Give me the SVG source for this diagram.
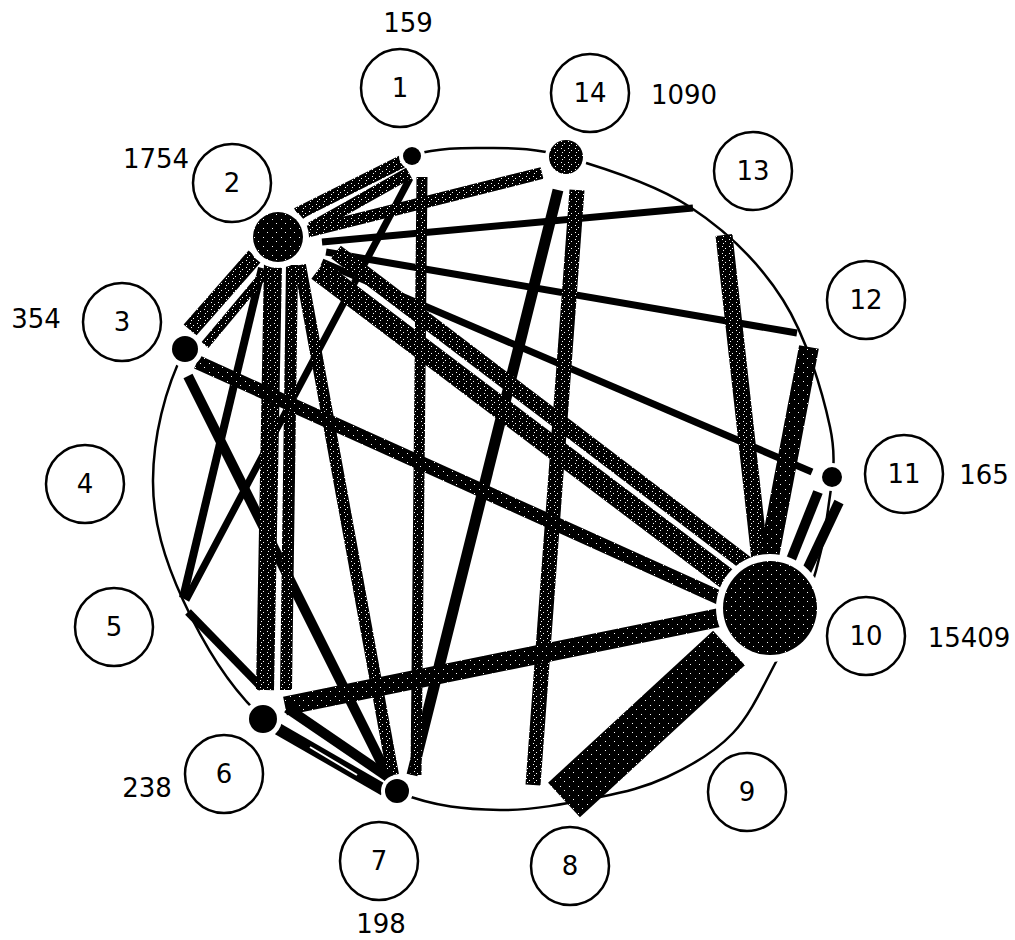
<svg xmlns="http://www.w3.org/2000/svg" width="1015" height="940" viewBox="0 0 1015 940">
<defs>
<pattern id="stip" width="7" height="7" patternUnits="userSpaceOnUse">
<rect width="7" height="7" fill="#000"/>
<rect x="1" y="1" width="1" height="1" fill="#fff"/>
<rect x="4" y="3" width="1" height="1" fill="#fff"/>
<rect x="2" y="5" width="1" height="1" fill="#fff"/>
</pattern>
<pattern id="spk" width="9" height="9" patternUnits="userSpaceOnUse">
<rect width="9" height="9" fill="#000"/>
<rect x="2" y="3" width="1" height="1" fill="#fff"/>
<rect x="6" y="7" width="1" height="1" fill="#fff"/>
</pattern>
</defs>
<style>
.lbl{fill:#fff;stroke:#000;stroke-width:2.5}
.num{font-family:"DejaVu Sans",sans-serif;font-size:26px;fill:#000;text-anchor:middle}
.val{font-family:"DejaVu Sans",sans-serif;font-size:26px;fill:#000;text-anchor:middle}
.halo{fill:#fff}
.dot{fill:#000}
.s{stroke:url(#stip);stroke-linecap:butt;fill:none}
.b{stroke:url(#spk);stroke-linecap:butt;fill:none}
.t{stroke:#000;stroke-linecap:butt;fill:none}
</style>
<rect width="1015" height="940" fill="#fff"/>
<path id="ring" d="M412,155 C440,148 459.3,147.7 485,148 C510.7,148.3 531.8,147.2 566,157 C600.2,166.8 653.8,183.2 690,207 C726.2,230.8 759.7,263.3 783,300 C806.3,336.7 822.5,392 830,427 C837.5,462 831.3,482.8 828,510 C824.7,537.2 818.5,565 810,590 C801.5,615 789.8,636.2 777,660 C764.2,683.8 751.3,713.5 733,733 C714.7,752.5 689.2,766.7 667,777 C644.8,787.3 625,792 600,797 C572.2,802.5 533.8,810.5 500,810 C466.2,809.5 436.5,807.3 397,792 C357.5,776.7 298.7,750 263,718 C227.3,686 201.3,639.7 183,600 C164.7,560.3 152.7,521.8 153,480 C153.3,438.2 164.2,389.5 185,349 C205.8,308.5 240.2,269.3 278,237 C315.8,204.7 380,166 412,155 Z" fill="none" stroke="#000" stroke-width="2.5"/>
<g id="connectors">
<line class="t" x1="322" y1="242" x2="693" y2="208" stroke-width="7"/>
<line class="t" x1="326" y1="252" x2="797" y2="333" stroke-width="7"/>
<line class="t" x1="322" y1="262" x2="812" y2="472" stroke-width="7"/>
<line class="t" x1="262" y1="268" x2="183" y2="598" stroke-width="8"/>
<line class="t" x1="410" y1="178" x2="186" y2="600" stroke-width="7"/>
<line class="t" x1="188" y1="612" x2="262" y2="688" stroke-width="8"/>
<line class="t" x1="188" y1="376" x2="390" y2="780" stroke-width="10"/>
<line class="t" x1="558" y1="190" x2="412" y2="775" stroke-width="11"/>
<line class="s" x1="297" y1="214" x2="403" y2="161" stroke-width="13"/>
<line class="s" x1="311" y1="228" x2="409" y2="173" stroke-width="12"/>
<line class="s" x1="306" y1="232" x2="542" y2="173" stroke-width="12"/>
<line class="s" x1="336" y1="252" x2="752" y2="568" stroke-width="16"/>
<line class="s" x1="318" y1="270" x2="735" y2="585" stroke-width="22"/>
<line class="s" x1="190" y1="330" x2="255" y2="256" stroke-width="17"/>
<line class="s" x1="205" y1="345" x2="266" y2="272" stroke-width="9"/>
<line class="s" x1="273" y1="262" x2="265" y2="690" stroke-width="18"/>
<line class="s" x1="292" y1="265" x2="286" y2="690" stroke-width="12"/>
<line class="s" x1="300" y1="265" x2="393" y2="775" stroke-width="12"/>
<line class="s" x1="422" y1="177" x2="416" y2="775" stroke-width="11"/>
<line class="s" x1="577" y1="190" x2="533" y2="785" stroke-width="15"/>
<line class="s" x1="724" y1="235" x2="760" y2="560" stroke-width="17"/>
<line class="b" x1="809" y1="347" x2="768" y2="562" stroke-width="20"/>
<line class="t" x1="818" y1="492" x2="790" y2="562" stroke-width="10"/>
<line class="t" x1="839" y1="502" x2="806" y2="572" stroke-width="10"/>
<line class="b" x1="197" y1="362" x2="720" y2="598" stroke-width="14"/>
<line class="b" x1="285" y1="706" x2="722" y2="617" stroke-width="19"/>
<line class="t" x1="287" y1="708" x2="388" y2="777" stroke-width="10"/>
<line class="t" x1="278" y1="729" x2="384" y2="790" stroke-width="12"/>
<line x1="310" y1="747" x2="357" y2="775" stroke="#fff" stroke-width="2"/>
<line class="b" x1="729" y1="648" x2="564" y2="800" stroke-width="47"/>
</g>
<g id="node1">
<circle class="halo" cx="412" cy="156" r="13"/>
<circle class="dot" cx="412" cy="156" r="9"/>
<circle class="lbl" cx="400" cy="88" r="39"/>
<text class="num" x="400" y="97">1</text>
<text class="val" x="408" y="32">159</text>
</g>
<g id="node2">
<circle class="halo" cx="278" cy="237" r="31"/>
<circle cx="278" cy="237" r="25" fill="url(#spk)"/>
<circle class="lbl" cx="232" cy="183" r="39"/>
<text class="num" x="232" y="192">2</text>
<text class="val" x="156" y="168">1754</text>
</g>
<g id="node3">
<circle class="halo" cx="185" cy="349" r="18"/>
<circle class="dot" cx="185" cy="349" r="13"/>
<circle class="lbl" cx="122" cy="322" r="39"/>
<text class="num" x="122" y="331">3</text>
<text class="val" x="36" y="328">354</text>
</g>
<g id="node4">
<circle class="lbl" cx="85" cy="484" r="39"/>
<text class="num" x="85" y="493">4</text>
</g>
<g id="node5">
<circle class="lbl" cx="114" cy="627" r="39"/>
<text class="num" x="114" y="636">5</text>
</g>
<g id="node6">
<circle class="halo" cx="263" cy="719" r="19"/>
<circle class="dot" cx="263" cy="719" r="14"/>
<circle class="lbl" cx="224" cy="774" r="39"/>
<text class="num" x="224" y="783">6</text>
<text class="val" x="147" y="797">238</text>
</g>
<g id="node7">
<circle class="halo" cx="397" cy="791" r="16"/>
<circle class="dot" cx="397" cy="791" r="12"/>
<circle class="lbl" cx="379" cy="861" r="39"/>
<text class="num" x="379" y="870">7</text>
<text class="val" x="381" y="933">198</text>
</g>
<g id="node8">
<circle class="lbl" cx="570" cy="866" r="39"/>
<text class="num" x="570" y="875">8</text>
</g>
<g id="node9">
<circle class="lbl" cx="747" cy="792" r="39"/>
<text class="num" x="747" y="801">9</text>
</g>
<g id="node10">
<circle class="halo" cx="770" cy="608" r="54"/>
<circle cx="770" cy="608" r="47" fill="url(#spk)"/>
<circle class="lbl" cx="866" cy="636" r="39"/>
<text class="num" x="866" y="645">10</text>
<text class="val" x="969" y="647">15409</text>
</g>
<g id="node11">
<circle class="halo" cx="832" cy="477" r="14"/>
<circle class="dot" cx="832" cy="477" r="10"/>
<circle class="lbl" cx="904" cy="474" r="39"/>
<text class="num" x="904" y="483">11</text>
<text class="val" x="984" y="484">165</text>
</g>
<g id="node12">
<circle class="lbl" cx="866" cy="300" r="39"/>
<text class="num" x="866" y="309">12</text>
</g>
<g id="node13">
<circle class="lbl" cx="753" cy="171" r="39"/>
<text class="num" x="753" y="180">13</text>
</g>
<g id="node14">
<circle class="halo" cx="566" cy="157" r="21"/>
<circle cx="566" cy="157" r="17" fill="url(#stip)"/>
<circle class="lbl" cx="590" cy="93" r="39"/>
<text class="num" x="590" y="102">14</text>
<text class="val" x="684" y="104">1090</text>
</g>
</svg>
